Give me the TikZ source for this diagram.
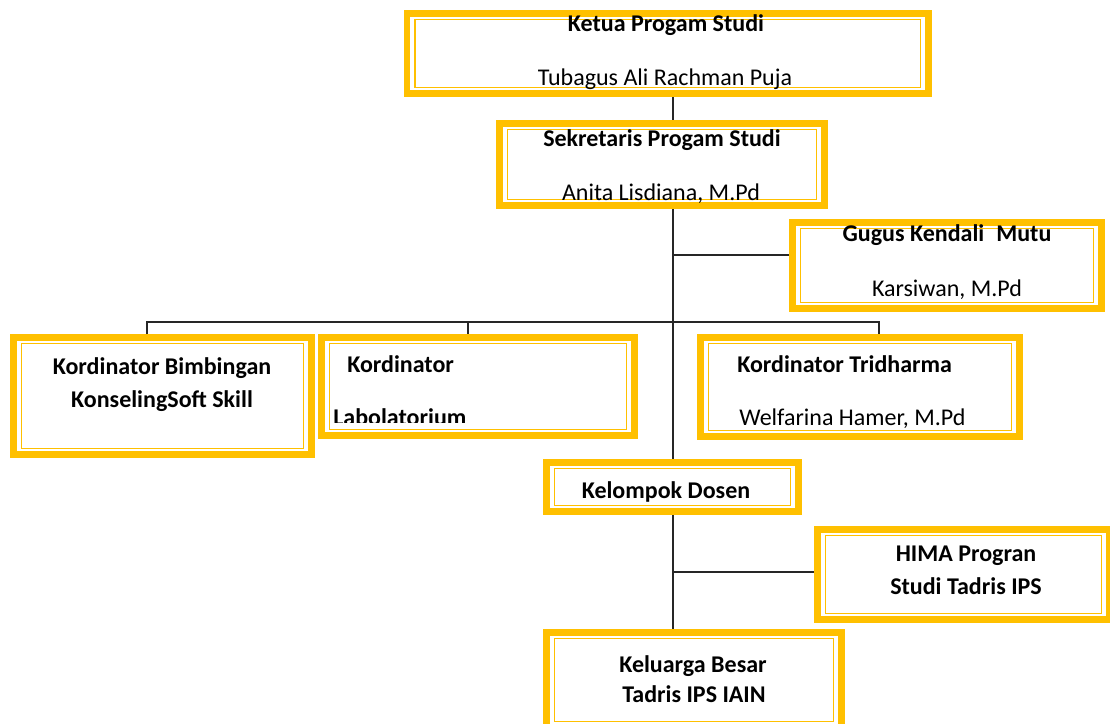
\documentclass[tikz,border=0pt]{standalone}
\usepackage{fontspec}
\setmainfont{Carlito}
\usetikzlibrary{calc}
\definecolor{gold}{HTML}{FFC000}
\tikzset{
  obox/.style={draw=gold, line width=5.1pt, rectangle, inner sep=0pt},
  iline/.style={draw=gold, line width=1.2pt},
  conn/.style={draw=black!85, line width=0.9pt},
  tx/.style={font=\fontsize{18}{21}\selectfont, inner sep=0pt, anchor=base},
  tb/.style={tx, font=\fontsize{18}{21}\selectfont\bfseries},
}
\newcommand\orgbox[5]{%
  \pgfmathsetmacro\bw{(#4-#2-6.8)*0.75}%
  \pgfmathsetmacro\bh{(#5-#3-6.8)*0.75}%
  \node[obox, minimum width=\bw pt, minimum height=\bh pt] (#1) at ({(#2+#4)/2},{(#3+#5)/2}) {};
  \draw[iline] ($(#1.north west)+(11.5,9.5)$) rectangle ($(#1.south east)+(-11.5,-9.5)$);
}
\begin{document}
\begin{tikzpicture}[x=0.75pt,y=-0.75pt]
\useasboundingbox (0,0) rectangle (1110,724);
% boxes
\orgbox{ketua}{403.5}{10}{932}{97}
\orgbox{sek}{496}{120}{828}{209}
\orgbox{gugus}{789}{219}{1105}{312}
\orgbox{bimb}{10}{334}{315}{458}
\orgbox{lab}{318}{334}{638}{439}
\orgbox{trid}{697}{334}{1023}{440}
\orgbox{dosen}{543}{459}{802}{515}
\orgbox{hima}{814}{526}{1113}{623}
\orgbox{kel}{543}{629}{845}{731}
% texts
\node[tb] (t1) at (666,32) {Ketua Progam Studi};
\node[tx] (t2) at (665,86) {Tubagus Ali Rachman Puja};
\node[tb] (t3) at (662,146) {Sekretaris Progam Studi};
\node[tx] (t4) at (661,200) {Anita Lisdiana, M.Pd};
\node[tb] (t5) at (947,241) {Gugus Kendali\hspace{0.5em}Mutu};
\node[tx] (t6) at (947,296) {Karsiwan, M.Pd};
\node[tb] (t7) at (162,374) {Kordinator Bimbingan};
\node[tb] (t8) at (162,407) {KonselingSoft Skill};
\node[tb, anchor=base west] (t9) at (347,372) {Kordinator};
\begin{scope}
  \clip (330,395) rectangle (630,422);
  \node[tb, anchor=base west] (t10) at (333,425) {Labolatorium};
\end{scope}
\node[tb, anchor=base west] (t11) at (737,372) {Kordinator Tridharma};
\node[tx, anchor=base west] (t12) at (739,425) {Welfarina Hamer, M.Pd};
\node[tb] (t13) at (666,498) {Kelompok Dosen};
\node[tb] (t14) at (966,561) {HIMA Progran};
\node[tb] (t15) at (966,594) {Studi Tadris IPS};
\node[tb] (t16) at (693,672) {Keluarga Besar};
\node[tb] (t17) at (694,702) {Tadris IPS IAIN};
% connectors
\coordinate (spine) at (673,0);
\coordinate (jg) at (673,255);
\coordinate (bl) at (147,322);
\coordinate (bm) at (468,322);
\coordinate (br) at (879,322);
\coordinate (jh) at (673,572);
\draw[conn] (ketua.south -| spine) -- (sek.north -| spine);
\draw[conn] (sek.south -| spine) -- (dosen.north -| spine);
\draw[conn] (jg) -- (jg -| gugus.west);
\draw[conn] (bl |- bimb.north) -- (bl) -- (br) -- (br |- trid.north);
\draw[conn] (bm) -- (bm |- lab.north);
\draw[conn] (dosen.south -| spine) -- (kel.north -| spine);
\draw[conn] (jh) -- (jh -| hima.west);
\end{tikzpicture}
\end{document}
